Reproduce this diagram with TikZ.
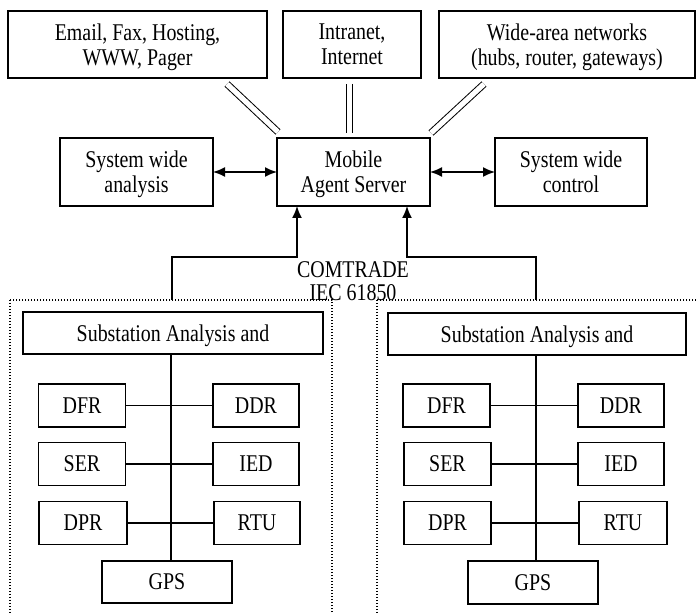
\documentclass[tikz,border=0pt]{standalone}
\usepackage{fontspec}
\setmainfont{Liberation Serif}[FakeStretch=0.83]
\usetikzlibrary{arrows.meta}
\tikzset{
  box/.style 2 args={draw, line width=0.8pt, inner sep=0pt, outer sep=0pt, align=center,
    minimum width=#1, minimum height=#2, text depth=0pt, font=\fontsize{12}{12.5}\selectfont},
  wire/.style={line width=0.65pt},
  arr/.style={line width=0.8pt, -{Latex[length=6pt,width=5pt]}},
  darr/.style={line width=0.8pt, {Latex[length=6pt,width=5pt]}-{Latex[length=6pt,width=5pt]}},
  dbl/.style={line width=0.5pt, double, double distance=2.6pt},
  dotbox/.style={line width=0.6pt, dash pattern=on 0.6pt off 0.9pt},
  lbl/.style={align=center, inner sep=0pt, font=\fontsize{12}{11.5}\selectfont}
}
\begin{document}
\begin{tikzpicture}[x=0.5pt, y=-0.5pt]
\useasboundingbox (0,0) rectangle (696,614);

% top row
\node[box={129.5pt}{33.5pt}] (email) at (137.5,44.5) {Email, Fax, Hosting,\\WWW, Pager};
\node[box={69pt}{33.5pt}] (intra) at (352,44.5) {Intranet,\\Internet};
\node[box={128pt}{33.5pt}] (wan) at (567,44.5) {Wide-area networks\\(hubs, router, gateways)};

% middle row
\node[box={76.5pt}{34pt}] (analysis) at (136.5,172) {System wide\\analysis};
\node[box={76.5pt}{34pt}] (mobile) at (353.5,172) {Mobile\\Agent Server};
\node[box={76pt}{34pt}] (control) at (571,172) {System wide\\control};

% double links
\coordinate (e1) at (227,84);  \coordinate (e2) at (278,132);
\coordinate (i1) at (349.5,84); \coordinate (i2) at (349.5,133);
\coordinate (w1) at (484,84);  \coordinate (w2) at (431,133);
\draw[dbl] (e1) -- (e2);
\draw[dbl] (i1) -- (i2);
\draw[dbl] (w1) -- (w2);

\draw[darr] (analysis.east) -- (mobile.west);
\draw[darr] (mobile.east) -- (control.west);

% dotted containers
\draw[dotbox] (10,300) rectangle (332,640);
\draw[dotbox] (377,300) rectangle (720,640);

% uplinks
\coordinate (inL) at (172,300); \coordinate (upL) at (297,257);
\coordinate (inR) at (536,300); \coordinate (upR) at (407,257);
\draw[arr] (inL) |- (upL) -- (upL |- mobile.south);
\draw[arr] (inR) |- (upR) -- (upR |- mobile.south);
\node[lbl] (comtrade) at (353,281) {COMTRADE\\IEC 61850};

% left substation
\node[box={150pt}{21pt}] (subL) at (173,333) {Substation Analysis and};
\node[box={43.5pt}{21.5pt}] (dfrL) at (82,405.5) {DFR};
\node[box={43pt}{21.5pt}] (ddrL) at (256,405.5) {DDR};
\node[box={43.5pt}{21.5pt}] (serL) at (82,464) {SER};
\node[box={43pt}{21.5pt}] (iedL) at (256,464) {IED};
\node[box={44pt}{21.5pt}] (dprL) at (83,523) {DPR};
\node[box={43pt}{21.5pt}] (rtuL) at (257,523) {RTU};
\node[box={65pt}{21pt}] (gpsL) at (167,582) {GPS};
\coordinate (busL) at (171,0);
\draw[wire] (subL.south -| busL) -- (gpsL.north -| busL);
\draw[wire] (dfrL.east) -- (ddrL.west);
\draw[wire] (serL.east) -- (iedL.west);
\draw[wire] (dprL.east) -- (rtuL.west);

% right substation
\node[box={149pt}{21pt}] (subR) at (537,334) {Substation Analysis and};
\node[box={43.5pt}{21.5pt}] (dfrR) at (446.5,405.5) {DFR};
\node[box={43pt}{21.5pt}] (ddrR) at (621,405.5) {DDR};
\node[box={43.5pt}{21.5pt}] (serR) at (447.5,464) {SER};
\node[box={43pt}{21.5pt}] (iedR) at (621,464) {IED};
\node[box={43.5pt}{21.5pt}] (dprR) at (447.5,523) {DPR};
\node[box={44pt}{21.5pt}] (rtuR) at (623,523) {RTU};
\node[box={65pt}{21.5pt}] (gpsR) at (533,582.5) {GPS};
\coordinate (busR) at (536,0);
\draw[wire] (subR.south -| busR) -- (gpsR.north -| busR);
\draw[wire] (dfrR.east) -- (ddrR.west);
\draw[wire] (serR.east) -- (iedR.west);
\draw[wire] (dprR.east) -- (rtuR.west);
\end{tikzpicture}
\end{document}
